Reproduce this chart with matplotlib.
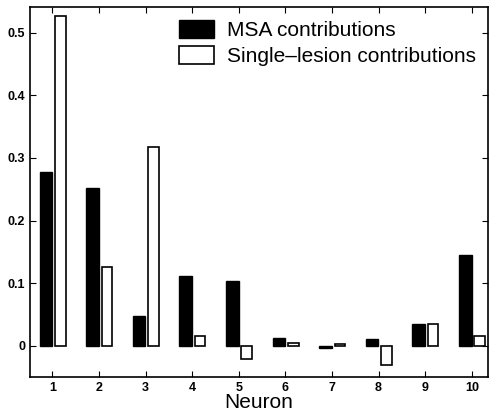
import numpy as np
import matplotlib
matplotlib.use("Agg")
import matplotlib.pyplot as plt

plt.rcParams['font.family'] = ['Liberation Sans', 'DejaVu Sans']

neurons = np.arange(1, 11)
msa = [0.278, 0.252, 0.048, 0.111, 0.103, 0.012, -0.003, 0.011, 0.035, 0.145]
single = [0.527, 0.125, 0.318, 0.016, -0.021, 0.005, 0.002, -0.030, 0.034, 0.016]

fig = plt.figure(figsize=(4.92, 4.18), dpi=100)
ax = fig.add_axes([0.061, 0.098, 0.931, 0.885])

w = 0.27
ax.bar(neurons - 0.14, msa, w, color='black', edgecolor='black', lw=1, label='MSA contributions')
ax.bar(neurons + 0.17, single, w * 0.85, color='white', edgecolor='black', lw=1.2,
       label='Single\u2013lesion contributions')

ax.set_xlim(0.52, 10.35)
ax.set_ylim(-0.05, 0.541)
ax.set_xticks(neurons)
ax.set_yticks([0, 0.1, 0.2, 0.3, 0.4, 0.5])
ax.set_yticklabels(['0', '0.1', '0.2', '0.3', '0.4', '0.5'])
ax.tick_params(direction='in', top=True, right=True, length=4, labelsize=9)
for lab in ax.get_xticklabels() + ax.get_yticklabels():
    lab.set_fontweight('bold')
for s in ax.spines.values():
    s.set_linewidth(1.2)

ax.set_xlabel('Neuron', fontsize=15, labelpad=-1)
ax.legend(loc='upper right', frameon=False, fontsize=15, handlelength=1.7,
          handleheight=0.95, labelspacing=0.3, borderaxespad=0.2, handletextpad=0.6)

fig.savefig('out.png', dpi=100)
